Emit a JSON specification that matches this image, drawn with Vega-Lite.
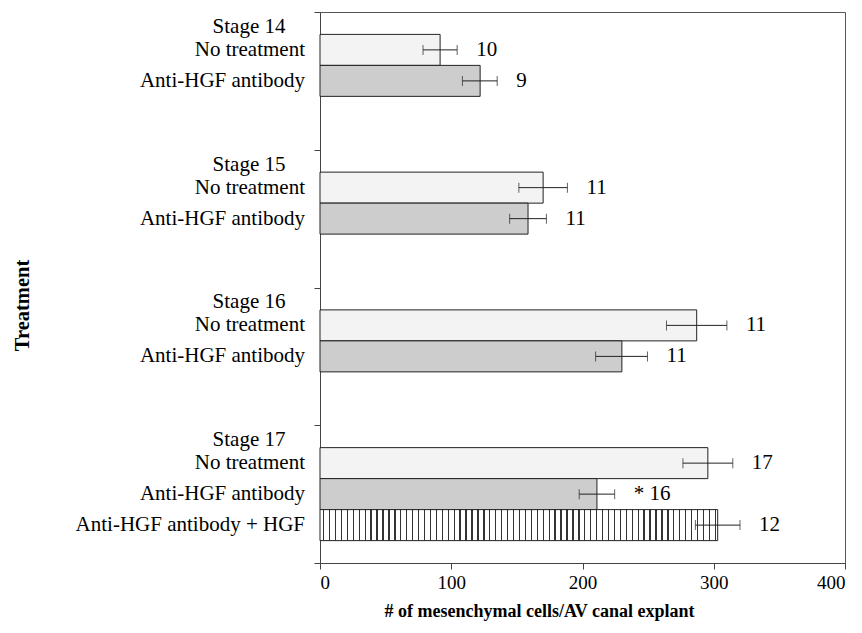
{
  "$schema": "https://vega.github.io/schema/vega-lite/v6.json",
  "width": 525,
  "height": 551,
  "autosize": "none",
  "padding": {"left": 320, "top": 12, "right": 17, "bottom": 70},
  "background": "white",
  "config": {
    "font": "Liberation Serif",
    "view": {"stroke": "#555555", "strokeWidth": 1},
    "axis": {"labelColor": "black", "titleColor": "black", "domainColor": "#444444", "tickColor": "#444444", "grid": false}
  },
  "data": {
    "values": [
      {"stage": "Stage 14", "series": "NT", "label": "No treatment", "value": 91.5, "lo": 78.5, "hi": 104.5, "n": "10"},
      {"stage": "Stage 14", "series": "Anti", "label": "Anti-HGF antibody", "value": 122, "lo": 108.5, "hi": 135, "n": "9"},
      {"stage": "Stage 15", "series": "NT", "label": "No treatment", "value": 170, "lo": 151.5, "hi": 188.5, "n": "11"},
      {"stage": "Stage 15", "series": "Anti", "label": "Anti-HGF antibody", "value": 158.5, "lo": 144.5, "hi": 172.5, "n": "11"},
      {"stage": "Stage 16", "series": "NT", "label": "No treatment", "value": 287, "lo": 264, "hi": 310, "n": "11"},
      {"stage": "Stage 16", "series": "Anti", "label": "Anti-HGF antibody", "value": 230, "lo": 210, "hi": 249.5, "n": "11"},
      {"stage": "Stage 17", "series": "NT", "label": "No treatment", "value": 295.5, "lo": 276.5, "hi": 314.5, "n": "17"},
      {"stage": "Stage 17", "series": "Anti", "label": "Anti-HGF antibody", "value": 211, "lo": 197.5, "hi": 224.5, "n": "* 16"},
      {"stage": "Stage 17", "series": "AntiHGF", "label": "Anti-HGF antibody + HGF", "value": 303, "lo": 286, "hi": 320, "n": "12"}
    ]
  },
  "encoding": {
    "y": {
      "field": "stage", "type": "nominal", "sort": null,
      "scale": {"paddingInner": 0, "paddingOuter": 0},
      "axis": {
        "labels": false, "title": "Treatment", "tickBand": "extent", "tickSize": 6,
        "titleFontSize": 20.5, "titleFontWeight": "bold", "titleAngle": 270,
        "titleX": -298, "titleY": 293, "titleAlign": "center", "titleBaseline": "middle"
      }
    },
    "yOffset": {"field": "series", "type": "nominal", "sort": null, "scale": {"domain": ["NT", "Anti", "AntiHGF"], "paddingInner": 0, "paddingOuter": 0.7218}}
  },
  "layer": [
    {
      "transform": [{"filter": "datum.series !== 'AntiHGF'"}],
      "mark": {"type": "bar", "stroke": "#222222", "strokeWidth": 1},
      "encoding": {
        "x": {
          "field": "value", "type": "quantitative", "title": "# of mesenchymal cells/AV canal explant",
          "scale": {"domain": [0, 400], "nice": false},
          "axis": {
            "values": [0, 100, 200, 300, 400], "labelFontSize": 19, "labelPadding": 4, "tickSize": 6,
            "titleFontSize": 18, "titleFontWeight": "bold", "titleX": 219, "titleY": 48,
            "titleAlign": "center", "titleBaseline": "middle"
          }
        },
        "fill": {
          "field": "series", "type": "nominal", "legend": null,
          "scale": {"domain": ["NT", "Anti"], "range": ["#f3f3f3", "#cdcdcd"]}
        }
      }
    },
    {
      "transform": [{"filter": "datum.series === 'AntiHGF'"}],
      "mark": {
        "type": "bar", "stroke": "#222222", "strokeWidth": 1,
        "fill": {
          "gradient": "linear", "x1": 0, "x2": 1, "y1": 0, "y2": 0,
          "stops": [
            {"offset": 0.0, "color": "#ffffff"},
            {"offset": 0.0075, "color": "#ffffff"}, {"offset": 0.0075, "color": "#333333"}, {"offset": 0.0108, "color": "#333333"}, {"offset": 0.0108, "color": "#ffffff"},
            {"offset": 0.0224, "color": "#ffffff"}, {"offset": 0.0224, "color": "#333333"}, {"offset": 0.0257, "color": "#333333"}, {"offset": 0.0257, "color": "#ffffff"},
            {"offset": 0.0373, "color": "#ffffff"}, {"offset": 0.0373, "color": "#333333"}, {"offset": 0.0406, "color": "#333333"}, {"offset": 0.0406, "color": "#ffffff"},
            {"offset": 0.0522, "color": "#ffffff"}, {"offset": 0.0522, "color": "#333333"}, {"offset": 0.0555, "color": "#333333"}, {"offset": 0.0555, "color": "#ffffff"},
            {"offset": 0.0672, "color": "#ffffff"}, {"offset": 0.0672, "color": "#333333"}, {"offset": 0.0705, "color": "#333333"}, {"offset": 0.0705, "color": "#ffffff"},
            {"offset": 0.0821, "color": "#ffffff"}, {"offset": 0.0821, "color": "#333333"}, {"offset": 0.0854, "color": "#333333"}, {"offset": 0.0854, "color": "#ffffff"},
            {"offset": 0.0970, "color": "#ffffff"}, {"offset": 0.0970, "color": "#333333"}, {"offset": 0.1003, "color": "#333333"}, {"offset": 0.1003, "color": "#ffffff"},
            {"offset": 0.1119, "color": "#ffffff"}, {"offset": 0.1119, "color": "#333333"}, {"offset": 0.1152, "color": "#333333"}, {"offset": 0.1152, "color": "#ffffff"},
            {"offset": 0.1269, "color": "#ffffff"}, {"offset": 0.1269, "color": "#333333"}, {"offset": 0.1302, "color": "#333333"}, {"offset": 0.1302, "color": "#ffffff"},
            {"offset": 0.1418, "color": "#ffffff"}, {"offset": 0.1418, "color": "#333333"}, {"offset": 0.1451, "color": "#333333"}, {"offset": 0.1451, "color": "#ffffff"},
            {"offset": 0.1567, "color": "#ffffff"}, {"offset": 0.1567, "color": "#333333"}, {"offset": 0.1600, "color": "#333333"}, {"offset": 0.1600, "color": "#ffffff"},
            {"offset": 0.1716, "color": "#ffffff"}, {"offset": 0.1716, "color": "#333333"}, {"offset": 0.1749, "color": "#333333"}, {"offset": 0.1749, "color": "#ffffff"},
            {"offset": 0.1866, "color": "#ffffff"}, {"offset": 0.1866, "color": "#333333"}, {"offset": 0.1899, "color": "#333333"}, {"offset": 0.1899, "color": "#ffffff"},
            {"offset": 0.2015, "color": "#ffffff"}, {"offset": 0.2015, "color": "#333333"}, {"offset": 0.2048, "color": "#333333"}, {"offset": 0.2048, "color": "#ffffff"},
            {"offset": 0.2164, "color": "#ffffff"}, {"offset": 0.2164, "color": "#333333"}, {"offset": 0.2197, "color": "#333333"}, {"offset": 0.2197, "color": "#ffffff"},
            {"offset": 0.2313, "color": "#ffffff"}, {"offset": 0.2313, "color": "#333333"}, {"offset": 0.2346, "color": "#333333"}, {"offset": 0.2346, "color": "#ffffff"},
            {"offset": 0.2463, "color": "#ffffff"}, {"offset": 0.2463, "color": "#333333"}, {"offset": 0.2496, "color": "#333333"}, {"offset": 0.2496, "color": "#ffffff"},
            {"offset": 0.2612, "color": "#ffffff"}, {"offset": 0.2612, "color": "#333333"}, {"offset": 0.2645, "color": "#333333"}, {"offset": 0.2645, "color": "#ffffff"},
            {"offset": 0.2761, "color": "#ffffff"}, {"offset": 0.2761, "color": "#333333"}, {"offset": 0.2794, "color": "#333333"}, {"offset": 0.2794, "color": "#ffffff"},
            {"offset": 0.2910, "color": "#ffffff"}, {"offset": 0.2910, "color": "#333333"}, {"offset": 0.2943, "color": "#333333"}, {"offset": 0.2943, "color": "#ffffff"},
            {"offset": 0.3060, "color": "#ffffff"}, {"offset": 0.3060, "color": "#333333"}, {"offset": 0.3093, "color": "#333333"}, {"offset": 0.3093, "color": "#ffffff"},
            {"offset": 0.3209, "color": "#ffffff"}, {"offset": 0.3209, "color": "#333333"}, {"offset": 0.3242, "color": "#333333"}, {"offset": 0.3242, "color": "#ffffff"},
            {"offset": 0.3358, "color": "#ffffff"}, {"offset": 0.3358, "color": "#333333"}, {"offset": 0.3391, "color": "#333333"}, {"offset": 0.3391, "color": "#ffffff"},
            {"offset": 0.3507, "color": "#ffffff"}, {"offset": 0.3507, "color": "#333333"}, {"offset": 0.3540, "color": "#333333"}, {"offset": 0.3540, "color": "#ffffff"},
            {"offset": 0.3657, "color": "#ffffff"}, {"offset": 0.3657, "color": "#333333"}, {"offset": 0.3690, "color": "#333333"}, {"offset": 0.3690, "color": "#ffffff"},
            {"offset": 0.3806, "color": "#ffffff"}, {"offset": 0.3806, "color": "#333333"}, {"offset": 0.3839, "color": "#333333"}, {"offset": 0.3839, "color": "#ffffff"},
            {"offset": 0.3955, "color": "#ffffff"}, {"offset": 0.3955, "color": "#333333"}, {"offset": 0.3988, "color": "#333333"}, {"offset": 0.3988, "color": "#ffffff"},
            {"offset": 0.4104, "color": "#ffffff"}, {"offset": 0.4104, "color": "#333333"}, {"offset": 0.4137, "color": "#333333"}, {"offset": 0.4137, "color": "#ffffff"},
            {"offset": 0.4254, "color": "#ffffff"}, {"offset": 0.4254, "color": "#333333"}, {"offset": 0.4287, "color": "#333333"}, {"offset": 0.4287, "color": "#ffffff"},
            {"offset": 0.4403, "color": "#ffffff"}, {"offset": 0.4403, "color": "#333333"}, {"offset": 0.4436, "color": "#333333"}, {"offset": 0.4436, "color": "#ffffff"},
            {"offset": 0.4552, "color": "#ffffff"}, {"offset": 0.4552, "color": "#333333"}, {"offset": 0.4585, "color": "#333333"}, {"offset": 0.4585, "color": "#ffffff"},
            {"offset": 0.4701, "color": "#ffffff"}, {"offset": 0.4701, "color": "#333333"}, {"offset": 0.4734, "color": "#333333"}, {"offset": 0.4734, "color": "#ffffff"},
            {"offset": 0.4851, "color": "#ffffff"}, {"offset": 0.4851, "color": "#333333"}, {"offset": 0.4884, "color": "#333333"}, {"offset": 0.4884, "color": "#ffffff"},
            {"offset": 0.5000, "color": "#ffffff"}, {"offset": 0.5000, "color": "#333333"}, {"offset": 0.5033, "color": "#333333"}, {"offset": 0.5033, "color": "#ffffff"},
            {"offset": 0.5149, "color": "#ffffff"}, {"offset": 0.5149, "color": "#333333"}, {"offset": 0.5182, "color": "#333333"}, {"offset": 0.5182, "color": "#ffffff"},
            {"offset": 0.5299, "color": "#ffffff"}, {"offset": 0.5299, "color": "#333333"}, {"offset": 0.5332, "color": "#333333"}, {"offset": 0.5332, "color": "#ffffff"},
            {"offset": 0.5448, "color": "#ffffff"}, {"offset": 0.5448, "color": "#333333"}, {"offset": 0.5481, "color": "#333333"}, {"offset": 0.5481, "color": "#ffffff"},
            {"offset": 0.5597, "color": "#ffffff"}, {"offset": 0.5597, "color": "#333333"}, {"offset": 0.5630, "color": "#333333"}, {"offset": 0.5630, "color": "#ffffff"},
            {"offset": 0.5746, "color": "#ffffff"}, {"offset": 0.5746, "color": "#333333"}, {"offset": 0.5779, "color": "#333333"}, {"offset": 0.5779, "color": "#ffffff"},
            {"offset": 0.5896, "color": "#ffffff"}, {"offset": 0.5896, "color": "#333333"}, {"offset": 0.5929, "color": "#333333"}, {"offset": 0.5929, "color": "#ffffff"},
            {"offset": 0.6045, "color": "#ffffff"}, {"offset": 0.6045, "color": "#333333"}, {"offset": 0.6078, "color": "#333333"}, {"offset": 0.6078, "color": "#ffffff"},
            {"offset": 0.6194, "color": "#ffffff"}, {"offset": 0.6194, "color": "#333333"}, {"offset": 0.6227, "color": "#333333"}, {"offset": 0.6227, "color": "#ffffff"},
            {"offset": 0.6343, "color": "#ffffff"}, {"offset": 0.6343, "color": "#333333"}, {"offset": 0.6376, "color": "#333333"}, {"offset": 0.6376, "color": "#ffffff"},
            {"offset": 0.6493, "color": "#ffffff"}, {"offset": 0.6493, "color": "#333333"}, {"offset": 0.6526, "color": "#333333"}, {"offset": 0.6526, "color": "#ffffff"},
            {"offset": 0.6642, "color": "#ffffff"}, {"offset": 0.6642, "color": "#333333"}, {"offset": 0.6675, "color": "#333333"}, {"offset": 0.6675, "color": "#ffffff"},
            {"offset": 0.6791, "color": "#ffffff"}, {"offset": 0.6791, "color": "#333333"}, {"offset": 0.6824, "color": "#333333"}, {"offset": 0.6824, "color": "#ffffff"},
            {"offset": 0.6940, "color": "#ffffff"}, {"offset": 0.6940, "color": "#333333"}, {"offset": 0.6973, "color": "#333333"}, {"offset": 0.6973, "color": "#ffffff"},
            {"offset": 0.7090, "color": "#ffffff"}, {"offset": 0.7090, "color": "#333333"}, {"offset": 0.7123, "color": "#333333"}, {"offset": 0.7123, "color": "#ffffff"},
            {"offset": 0.7239, "color": "#ffffff"}, {"offset": 0.7239, "color": "#333333"}, {"offset": 0.7272, "color": "#333333"}, {"offset": 0.7272, "color": "#ffffff"},
            {"offset": 0.7388, "color": "#ffffff"}, {"offset": 0.7388, "color": "#333333"}, {"offset": 0.7421, "color": "#333333"}, {"offset": 0.7421, "color": "#ffffff"},
            {"offset": 0.7537, "color": "#ffffff"}, {"offset": 0.7537, "color": "#333333"}, {"offset": 0.7570, "color": "#333333"}, {"offset": 0.7570, "color": "#ffffff"},
            {"offset": 0.7687, "color": "#ffffff"}, {"offset": 0.7687, "color": "#333333"}, {"offset": 0.7720, "color": "#333333"}, {"offset": 0.7720, "color": "#ffffff"},
            {"offset": 0.7836, "color": "#ffffff"}, {"offset": 0.7836, "color": "#333333"}, {"offset": 0.7869, "color": "#333333"}, {"offset": 0.7869, "color": "#ffffff"},
            {"offset": 0.7985, "color": "#ffffff"}, {"offset": 0.7985, "color": "#333333"}, {"offset": 0.8018, "color": "#333333"}, {"offset": 0.8018, "color": "#ffffff"},
            {"offset": 0.8134, "color": "#ffffff"}, {"offset": 0.8134, "color": "#333333"}, {"offset": 0.8167, "color": "#333333"}, {"offset": 0.8167, "color": "#ffffff"},
            {"offset": 0.8284, "color": "#ffffff"}, {"offset": 0.8284, "color": "#333333"}, {"offset": 0.8317, "color": "#333333"}, {"offset": 0.8317, "color": "#ffffff"},
            {"offset": 0.8433, "color": "#ffffff"}, {"offset": 0.8433, "color": "#333333"}, {"offset": 0.8466, "color": "#333333"}, {"offset": 0.8466, "color": "#ffffff"},
            {"offset": 0.8582, "color": "#ffffff"}, {"offset": 0.8582, "color": "#333333"}, {"offset": 0.8615, "color": "#333333"}, {"offset": 0.8615, "color": "#ffffff"},
            {"offset": 0.8731, "color": "#ffffff"}, {"offset": 0.8731, "color": "#333333"}, {"offset": 0.8764, "color": "#333333"}, {"offset": 0.8764, "color": "#ffffff"},
            {"offset": 0.8881, "color": "#ffffff"}, {"offset": 0.8881, "color": "#333333"}, {"offset": 0.8914, "color": "#333333"}, {"offset": 0.8914, "color": "#ffffff"},
            {"offset": 0.9030, "color": "#ffffff"}, {"offset": 0.9030, "color": "#333333"}, {"offset": 0.9063, "color": "#333333"}, {"offset": 0.9063, "color": "#ffffff"},
            {"offset": 0.9179, "color": "#ffffff"}, {"offset": 0.9179, "color": "#333333"}, {"offset": 0.9212, "color": "#333333"}, {"offset": 0.9212, "color": "#ffffff"},
            {"offset": 0.9328, "color": "#ffffff"}, {"offset": 0.9328, "color": "#333333"}, {"offset": 0.9361, "color": "#333333"}, {"offset": 0.9361, "color": "#ffffff"},
            {"offset": 0.9478, "color": "#ffffff"}, {"offset": 0.9478, "color": "#333333"}, {"offset": 0.9511, "color": "#333333"}, {"offset": 0.9511, "color": "#ffffff"},
            {"offset": 0.9627, "color": "#ffffff"}, {"offset": 0.9627, "color": "#333333"}, {"offset": 0.9660, "color": "#333333"}, {"offset": 0.9660, "color": "#ffffff"},
            {"offset": 0.9776, "color": "#ffffff"}, {"offset": 0.9776, "color": "#333333"}, {"offset": 0.9809, "color": "#333333"}, {"offset": 0.9809, "color": "#ffffff"},
            {"offset": 0.9925, "color": "#ffffff"}, {"offset": 0.9925, "color": "#333333"}, {"offset": 0.9958, "color": "#333333"}, {"offset": 0.9958, "color": "#ffffff"},
            {"offset": 1.0, "color": "#ffffff"}
          ]
        }
      },
      "encoding": {
        "x": {"field": "value", "type": "quantitative", "title": "# of mesenchymal cells/AV canal explant"}
      }
    },
    {
      "mark": {"type": "rule", "color": "#222222", "strokeWidth": 1},
      "encoding": {
        "x": {"field": "lo", "type": "quantitative", "title": "# of mesenchymal cells/AV canal explant"},
        "x2": {"field": "hi", "title": "# of mesenchymal cells/AV canal explant"}
      }
    },
    {
      "mark": {"type": "tick", "color": "#222222", "thickness": 1, "size": 10},
      "encoding": {"x": {"field": "lo", "type": "quantitative", "title": "# of mesenchymal cells/AV canal explant"}}
    },
    {
      "mark": {"type": "tick", "color": "#222222", "thickness": 1, "size": 10},
      "encoding": {"x": {"field": "hi", "type": "quantitative", "title": "# of mesenchymal cells/AV canal explant"}}
    },
    {
      "mark": {"type": "text", "align": "left", "baseline": "middle", "dx": 19, "fontSize": 21, "color": "black"},
      "encoding": {
        "x": {"field": "hi", "type": "quantitative", "title": "# of mesenchymal cells/AV canal explant"},
        "text": {"field": "n"}
      }
    },
    {
      "mark": {"type": "text", "align": "right", "baseline": "middle", "dx": -15, "fontSize": 21, "color": "black"},
      "encoding": {
        "x": {"datum": 0, "type": "quantitative", "title": "# of mesenchymal cells/AV canal explant"},
        "text": {"field": "label"}
      }
    },
    {
      "transform": [{"filter": "datum.series === 'NT'"}],
      "mark": {"type": "text", "align": "center", "baseline": "middle", "dx": -71, "dy": -23, "fontSize": 21, "color": "black"},
      "encoding": {
        "x": {"datum": 0, "type": "quantitative", "title": "# of mesenchymal cells/AV canal explant"},
        "text": {"field": "stage"}
      }
    }
  ]
}
